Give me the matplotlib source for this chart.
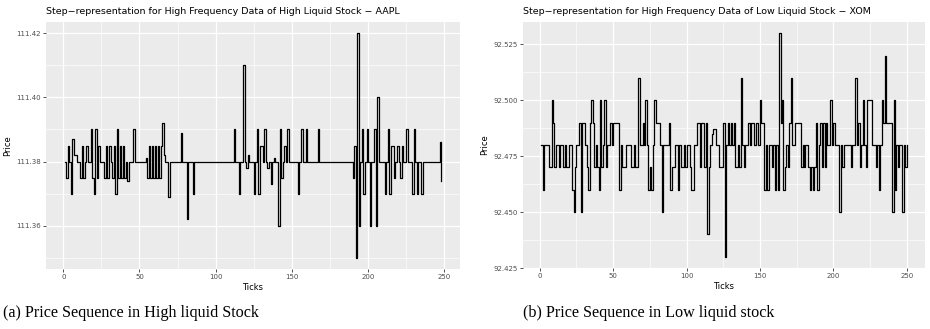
import numpy as np
import matplotlib
matplotlib.use("Agg")
import matplotlib.pyplot as plt
from matplotlib.ticker import FormatStrFormatter, MultipleLocator

# ---------------- data ----------------
aapl_ticks = list(range(1, 249))
aapl_price = [
    111.380, 111.375, 111.385, 111.380, 111.370, 111.387, 111.382, 111.382, 111.380, 111.380,
    111.375, 111.385, 111.375, 111.380, 111.385, 111.380, 111.380, 111.390, 111.375, 111.370,
    111.390, 111.375, 111.385, 111.380, 111.380, 111.380, 111.375, 111.385, 111.375, 111.385,
    111.380, 111.375, 111.385, 111.370, 111.390, 111.375, 111.385, 111.375, 111.385, 111.375,
    111.380, 111.374, 111.380, 111.380, 111.380, 111.390, 111.380, 111.380, 111.380, 111.380,
    111.380, 111.380, 111.380, 111.381, 111.375, 111.385, 111.375, 111.385, 111.375, 111.385,
    111.375, 111.385, 111.375, 111.385, 111.392, 111.382, 111.380, 111.380, 111.369, 111.380,
    111.380, 111.380, 111.380, 111.380, 111.380, 111.380, 111.389, 111.380, 111.380, 111.380,
    111.362, 111.380, 111.380, 111.380, 111.370, 111.380, 111.380, 111.380, 111.380, 111.380,
    111.380, 111.380, 111.380, 111.380, 111.380, 111.380, 111.380, 111.380, 111.380, 111.380,
    111.380, 111.380, 111.380, 111.380, 111.380, 111.380, 111.380, 111.380, 111.380, 111.380,
    111.380, 111.390, 111.380, 111.380, 111.370, 111.380, 111.380, 111.410, 111.380, 111.378,
    111.382, 111.380, 111.380, 111.380, 111.370, 111.380, 111.390, 111.370, 111.385, 111.385,
    111.380, 111.390, 111.380, 111.378, 111.380, 111.373, 111.380, 111.381, 111.380, 111.380,
    111.360, 111.390, 111.375, 111.380, 111.385, 111.380, 111.390, 111.380, 111.380, 111.380,
    111.380, 111.380, 111.380, 111.370, 111.380, 111.390, 111.380, 111.380, 111.390, 111.380,
    111.380, 111.380, 111.380, 111.380, 111.380, 111.380, 111.390, 111.380, 111.380, 111.380,
    111.380, 111.380, 111.380, 111.380, 111.380, 111.380, 111.380, 111.380, 111.380, 111.380,
    111.380, 111.380, 111.380, 111.380, 111.380, 111.380, 111.380, 111.380, 111.380, 111.375,
    111.385, 111.350, 111.420, 111.360, 111.380, 111.390, 111.370, 111.380, 111.390, 111.380,
    111.360, 111.380, 111.380, 111.390, 111.360, 111.400, 111.380, 111.380, 111.380, 111.380,
    111.370, 111.380, 111.390, 111.370, 111.385, 111.385, 111.375, 111.380, 111.385, 111.380,
    111.375, 111.385, 111.380, 111.380, 111.390, 111.380, 111.380, 111.380, 111.370, 111.390,
    111.380, 111.370, 111.380, 111.380, 111.370, 111.380, 111.380, 111.380, 111.380, 111.380,
    111.380, 111.380, 111.380, 111.380, 111.380, 111.380, 111.386, 111.374,
]

xom_ticks = list(range(1, 251))
xom_price = [
    92.480, 92.460, 92.480, 92.480, 92.480, 92.470, 92.470, 92.500, 92.490, 92.470,
    92.480, 92.480, 92.470, 92.480, 92.480, 92.470, 92.480, 92.470, 92.470, 92.480,
    92.480, 92.460, 92.450, 92.470, 92.480, 92.480, 92.490, 92.450, 92.490, 92.490,
    92.480, 92.470, 92.460, 92.490, 92.500, 92.490, 92.470, 92.480, 92.470, 92.460,
    92.500, 92.470, 92.480, 92.500, 92.470, 92.480, 92.480, 92.490, 92.480, 92.490,
    92.490, 92.490, 92.490, 92.460, 92.480, 92.470, 92.470, 92.470, 92.480, 92.480,
    92.480, 92.470, 92.470, 92.480, 92.470, 92.470, 92.510, 92.480, 92.480, 92.490,
    92.480, 92.500, 92.480, 92.460, 92.470, 92.460, 92.480, 92.500, 92.490, 92.490,
    92.490, 92.480, 92.450, 92.480, 92.480, 92.480, 92.480, 92.490, 92.460, 92.470,
    92.470, 92.480, 92.480, 92.460, 92.480, 92.470, 92.470, 92.480, 92.470, 92.480,
    92.480, 92.470, 92.460, 92.460, 92.480, 92.480, 92.490, 92.490, 92.470, 92.490,
    92.490, 92.470, 92.490, 92.440, 92.470, 92.480, 92.485, 92.487, 92.487, 92.480,
    92.480, 92.470, 92.470, 92.470, 92.490, 92.430, 92.480, 92.490, 92.480, 92.490,
    92.480, 92.490, 92.470, 92.470, 92.480, 92.470, 92.510, 92.480, 92.470, 92.480,
    92.480, 92.490, 92.480, 92.490, 92.490, 92.480, 92.490, 92.490, 92.480, 92.500,
    92.490, 92.490, 92.460, 92.480, 92.460, 92.480, 92.480, 92.470, 92.480, 92.460,
    92.480, 92.460, 92.530, 92.490, 92.500, 92.460, 92.470, 92.480, 92.470, 92.490,
    92.510, 92.480, 92.480, 92.490, 92.490, 92.490, 92.490, 92.470, 92.480, 92.470,
    92.480, 92.480, 92.470, 92.460, 92.470, 92.460, 92.470, 92.490, 92.460, 92.480,
    92.490, 92.470, 92.490, 92.470, 92.490, 92.480, 92.480, 92.500, 92.480, 92.490,
    92.480, 92.480, 92.480, 92.450, 92.480, 92.470, 92.480, 92.480, 92.480, 92.480,
    92.480, 92.470, 92.480, 92.480, 92.510, 92.480, 92.490, 92.470, 92.480, 92.500,
    92.480, 92.470, 92.500, 92.500, 92.500, 92.480, 92.480, 92.480, 92.470, 92.480,
    92.460, 92.480, 92.500, 92.490, 92.520, 92.490, 92.490, 92.490, 92.490, 92.450,
    92.500, 92.460, 92.480, 92.470, 92.480, 92.480, 92.450, 92.480, 92.470, 92.480,
]

titles = ["Step\u2212representation for High Frequency Data of High Liquid Stock \u2212 AAPL",
          "Step\u2212representation for High Frequency Data of Low Liquid Stock \u2212 XOM"]
captions = ["(a) Price Sequence in High liquid Stock",
            "(b) Price Sequence in Low liquid stock"]
aapl_yticks = [111.36, 111.38, 111.40, 111.42]
xom_yticks = [92.425, 92.450, 92.475, 92.500, 92.525]
xticks = [0, 50, 100, 150, 200, 250]

# ---------------- figure ----------------
W, H = 930, 329
fig = plt.figure(figsize=(W / 100, H / 100), dpi=100)

def px_axes(x0, y0, x1, y1):
    return fig.add_axes([x0 / W, 1 - y1 / H, (x1 - x0) / W, (y1 - y0) / H])

def ggstyle(ax, x, y, yticks, fmt, title, left_px):
    ax.set_facecolor("#EBEBEB")
    for s in ax.spines.values():
        s.set_visible(False)
    ax.step(x, y, where="post", color="black", lw=0.9, zorder=3)
    xr = max(x) - min(x)
    ax.set_xlim(min(x) - 0.05 * xr, max(x) + 0.05 * xr)
    yr = max(y) - min(y)
    ax.set_ylim(min(y) - 0.05 * yr, max(y) + 0.05 * yr)
    ax.set_xticks(xticks)
    ax.xaxis.set_minor_locator(MultipleLocator(25))
    ax.set_yticks(yticks)
    step = yticks[1] - yticks[0]
    ax.yaxis.set_minor_locator(MultipleLocator(step / 2, offset=yticks[0]))
    ax.yaxis.set_major_formatter(FormatStrFormatter(fmt))
    ax.grid(True, which="major", color="white", lw=0.9, zorder=0)
    ax.grid(True, which="minor", color="white", lw=0.45, zorder=0)
    ax.set_axisbelow(True)
    ax.tick_params(which="major", length=2, width=0.6, color="#333333",
                   labelsize=5, labelcolor="#4D4D4D", pad=1.5)
    ax.tick_params(which="minor", length=0)
    ax.set_xlabel("Ticks", fontsize=6, labelpad=2)
    ax.set_ylabel("Price", fontsize=6, labelpad=3)
    fig.text(left_px / W, 1 - 12 / H, title, fontsize=6.8, ha="left", va="center")

ax1 = px_axes(46, 22, 460, 269)
ggstyle(ax1, aapl_ticks, aapl_price, aapl_yticks, "%.2f", titles[0], 46)
ax2 = px_axes(523, 22, 925, 268)
ggstyle(ax2, xom_ticks, xom_price, xom_yticks, "%.3f", titles[1], 523)

cap_font = dict(family=["Liberation Serif", "DejaVu Serif"], fontsize=11.6)
fig.text(3 / W, 1 - 313 / H, captions[0], ha="left", va="center", **cap_font)
fig.text(523 / W, 1 - 313 / H, captions[1], ha="left", va="center", **cap_font)

fig.savefig("out.png", dpi=100)
